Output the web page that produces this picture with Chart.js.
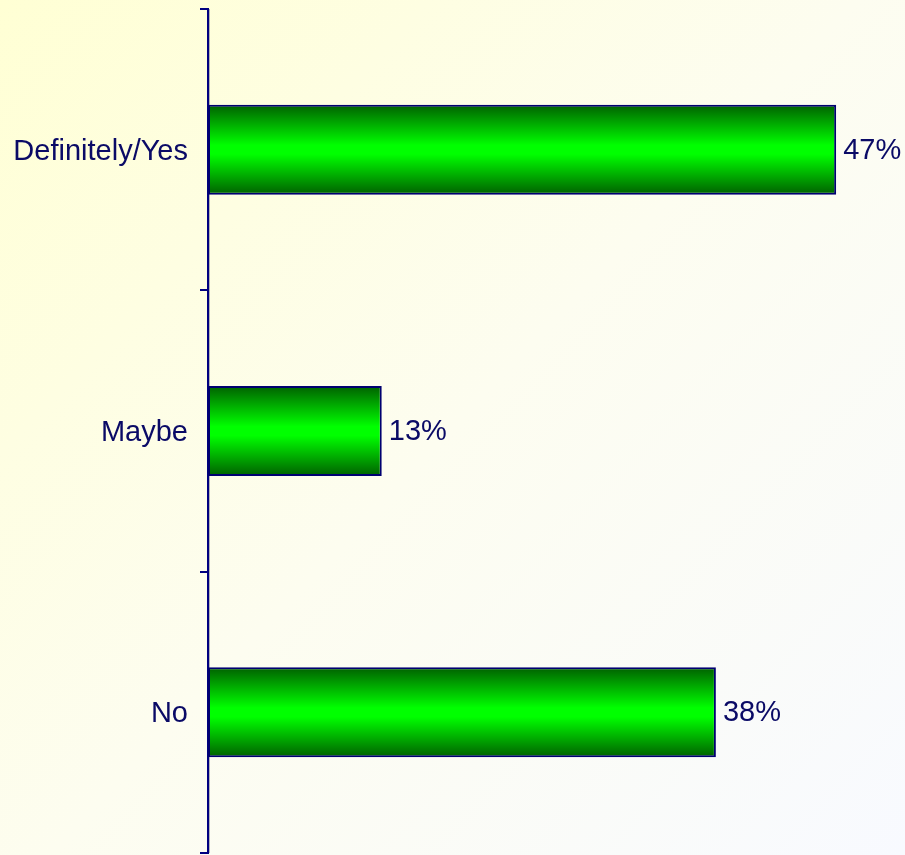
<!DOCTYPE html>
<html>
<head>
<meta charset="utf-8">
<script src="https://cdn.jsdelivr.net/npm/chart.js@4/dist/chart.umd.min.js"></script>
<style>
html,body{margin:0;padding:0;background:#fdfdf0;}
canvas{display:block;}
</style>
</head>
<body>
<canvas id="c" width="905" height="855"></canvas>
<script>
const categories = ["Definitely/Yes", "Maybe", "No"];
const values = [47, 13, 38];
const valueSuffix = "%";

const textColor = "#0a0a66";
const fontFamily = "'Liberation Sans', Arial, sans-serif";
const BAR_PCT = 0.32;

const bgPlugin = {
  id: 'bg',
  beforeDraw(chart) {
    const {ctx, width, height} = chart;
    const g = ctx.createLinearGradient(0, 0, width, height);
    g.addColorStop(0, '#ffffd4');
    g.addColorStop(0.5, '#fdfdf0');
    g.addColorStop(1, '#f8faff');
    ctx.save();
    ctx.fillStyle = g;
    ctx.fillRect(0, 0, width, height);
    ctx.restore();
  }
};

function barFill(c) {
  const chart = c.chart;
  const ys = chart.scales && chart.scales.y;
  if (!ys || c.dataIndex === undefined || !ys.height) return '#00cc00';
  const center = ys.getPixelForValue(c.dataIndex);
  const h = ys.height / categories.length * BAR_PCT;
  const top = center - h / 2;
  const g = chart.ctx.createLinearGradient(0, top, 0, top + h);
  g.addColorStop(0, '#006000');
  g.addColorStop(0.45, '#00ff00');
  g.addColorStop(0.55, '#00ff00');
  g.addColorStop(1, '#006000');
  return g;
}

const labelPlugin = {
  id: 'vlabels',
  afterDatasetsDraw(chart) {
    const ctx = chart.ctx;
    const ds = chart.data.datasets[0];
    ctx.save();
    ctx.font = "29px " + fontFamily;
    ctx.fillStyle = textColor;
    ctx.textAlign = 'left';
    ctx.textBaseline = 'middle';
    chart.getDatasetMeta(0).data.forEach((bar, i) => {
      ctx.fillText(ds.data[i] + valueSuffix, bar.x + 7, bar.y + 1);
    });
    ctx.restore();
  }
};

const axisShadowPlugin = {
  id: 'axisShadow',
  beforeDatasetsDraw(chart) {
    const {ctx, chartArea} = chart;
    ctx.save();
    ctx.strokeStyle = 'rgba(120,120,140,0.55)';
    ctx.lineWidth = 1;
    ctx.beginPath();
    ctx.moveTo(chartArea.left + 1.5, chartArea.top);
    ctx.lineTo(chartArea.left + 1.5, chartArea.bottom);
    ctx.stroke();
    ctx.restore();
  }
};

new Chart(document.getElementById('c'), {
  type: 'bar',
  data: {
    labels: categories,
    datasets: [{
      data: values,
      backgroundColor: barFill,
      borderColor: '#000070',
      borderWidth: 2,
      borderSkipped: false,
      barPercentage: BAR_PCT,
      categoryPercentage: 1
    }]
  },
  options: {
    indexAxis: 'y',
    responsive: false,
    animation: false,
    events: [],
    layout: { padding: { top: 9, bottom: 2, right: 2, left: 0 } },
    plugins: {
      legend: { display: false },
      tooltip: { enabled: false },
      title: { display: false }
    },
    scales: {
      x: {
        display: false,
        min: 0,
        max: 52
      },
      y: {
        afterFit(scale) { scale.width = 208; scale.paddingTop = 0; scale.paddingBottom = 0; },
        grid: {
          drawOnChartArea: false,
          color: '#000080',
          lineWidth: 2,
          tickLength: 8,
          offset: true
        },
        border: { display: true, color: '#000080', width: 2 },
        ticks: {
          color: textColor,
          font: { size: 29, family: fontFamily },
          padding: 12,
          labelOffset: 2
        }
      }
    }
  },
  plugins: [bgPlugin, axisShadowPlugin, labelPlugin]
});
</script>
</body>
</html>
